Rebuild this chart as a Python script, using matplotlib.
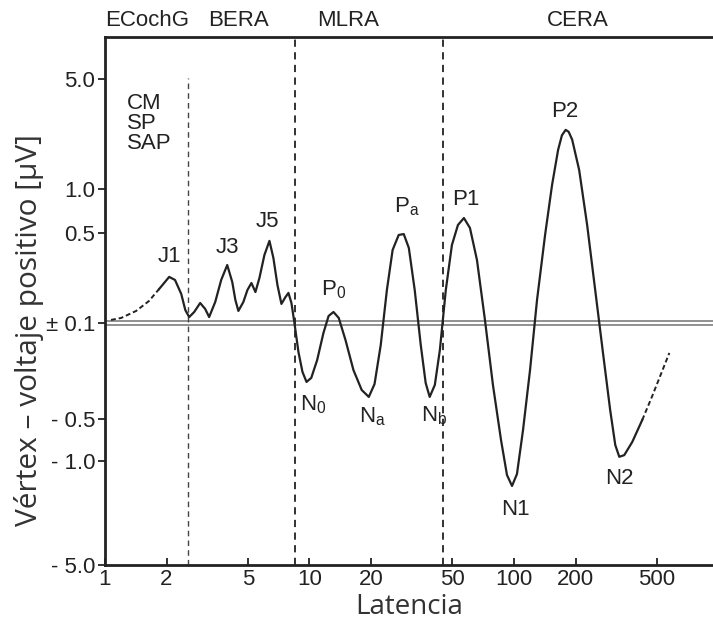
import numpy as np
import matplotlib
matplotlib.use('Agg')
from matplotlib import pyplot as plt

# latencia (ms) y voltaje (uV)
latency = [1.07, 1.20, 1.42, 1.64, 1.84, 2.06, 2.20, 2.36, 2.47, 2.58,
           2.73, 2.92, 3.09, 3.23, 3.46, 3.70, 3.96, 4.19, 4.34, 4.49,
           4.75, 4.97, 5.20, 5.44, 5.69, 6.02, 6.37, 6.66, 6.97, 7.29,
           7.63, 7.89, 8.16, 8.44, 8.83, 9.24, 9.67, 10.2, 10.9, 11.7,
           12.4, 13.1, 13.9, 15.0, 16.4, 18.0, 19.5, 20.8, 22.3, 23.9,
           25.5, 27.3, 28.9, 30.6, 32.7, 35.0, 37.0, 38.7, 41.0, 43.4,
           46.4, 49.7, 53.2, 56.9, 60.9, 65.9, 72.1, 78.9, 86.4, 92.4,
           97.8, 103.4, 110.7, 119.8, 129.6, 141.9, 153.5, 164.3, 171.5, 178.9,
           185.0, 192.4, 208.3, 227.9, 249.5, 273.2, 295.3, 312.8, 327.2, 346.1,
           378.6, 423.7, 474.4, 575.0]
voltage = [0.017, 0.028, 0.067, 0.122, 0.189, 0.256, 0.239, 0.161, 0.072, 0.033,
           0.061, 0.111, 0.078, 0.033, 0.117, 0.239, 0.322, 0.228, 0.128, 0.067,
           0.117, 0.183, 0.222, 0.172, 0.25, 0.378, 0.456, 0.361, 0.211, 0.106,
           0.144, 0.167, 0.111, 0.0, -0.151, -0.255, -0.307, -0.286, -0.193, -0.052,
           0.039, 0.061, 0.028, -0.089, -0.245, -0.349, -0.385, -0.318, -0.115, 0.183,
           0.406, 0.489, 0.494, 0.417, 0.183, -0.115, -0.313, -0.385, -0.323, -0.141,
           0.183, 0.433, 0.591, 0.67, 0.557, 0.35, 0.017, -0.323, -0.75, -1.54,
           -1.96, -1.5, -0.631, -0.245, 0.128, 0.489, 1.145, 2.42, 2.95, 3.15,
           3.08, 2.8, 1.69, 0.59, 0.183, -0.167, -0.453, -0.81, -0.95, -0.93,
           -0.774, -0.512, -0.38, -0.156]

# nombres de las ondas y donde van escritos
peak_names = ['J1', 'J3', 'J5', 'P$_\\mathrm{0}$', 'P$_\\mathrm{a}$', 'P1', 'P2',
              'N$_\\mathrm{0}$', 'N$_\\mathrm{a}$', 'N$_\\mathrm{b}$', 'N1', 'N2']
peak_lat = [2.06, 3.96, 6.22, 13.1, 29.9, 58.1, 177.8, 10.45, 20.4, 40.6, 101.9, 326]
peak_volt = [0.367, 0.422, 0.625, 0.183, 0.795, 0.875, 3.8, -0.427, -0.49, -0.484, -2.88, -1.69]

regions = ['ECochG', 'BERA', 'MLRA', 'CERA']
region_lat = [1.60, 4.52, 15.4, 205]
boundaries = [2.55, 8.45, 44.8]

xticks = [1, 2, 5, 10, 20, 50, 100, 200, 500]
yticks = [-5.0, -1.0, -0.5, 0.0, 0.5, 1.0, 5.0]
ytick_labels = ['- 5.0', '- 1.0', '- 0.5', '\u00b1 0.1', '0.5', '1.0', '5.0']

# eje vertical "casi logaritmico" del dibujo original
scale_vals = [-20, -5, -1, -0.5, 0, 0.5, 1, 5, 20]
scale_pos = [-350, -242, -138, -96, 0, 90, 134, 244, 350]


def fwd(v):
    return np.interp(v, scale_vals, scale_pos)


def inv(p):
    return np.interp(p, scale_pos, scale_vals)


ink = '#222222'
plt.rcParams['font.family'] = ['Liberation Sans', 'DejaVu Sans']
plt.rcParams['mathtext.fontset'] = 'custom'
plt.rcParams['mathtext.rm'] = 'Liberation Sans'

fig = plt.figure(figsize=(7.13, 6.28), dpi=100)
ax = fig.add_axes([105 / 713, 63 / 628, 1 - 105 / 713, 528 / 628])
ax.set_xscale('log')
ax.set_yscale('function', functions=(fwd, inv))
ax.set_xlim(1, 940)
ax.set_ylim(-5, 10.94)

# linea base doble
ax.axhline(0.011, color='#888888', lw=1.3)
ax.axhline(-0.011, color='#888888', lw=1.3)

# separaciones entre regiones
ax.vlines(boundaries[0], -5, 5.1, colors='#444444', lw=1.0, linestyles=(0, (4, 3)))
for b in boundaries[1:]:
    ax.axvline(b, color=ink, lw=1.3, linestyle=(0, (4, 3)))

lat = np.array(latency)
volt = np.array(voltage)
ax.plot(lat[:5], volt[:5], color=ink, lw=1.4, linestyle=(0, (2.5, 1.5)))
ax.plot(lat[4:92], volt[4:92], color=ink, lw=1.6)
ax.plot(lat[91:], volt[91:], color=ink, lw=1.4, linestyle=(0, (2.5, 1.5)))

for name, x, y in zip(peak_names, peak_lat, peak_volt):
    ax.text(x, y, name, ha='center', va='center', fontsize=16, color=ink)

ax.text(1.28, 4.5, 'CM\nSP\nSAP', ha='left', va='top', fontsize=16,
        color=ink, linespacing=0.95)

for name, x in zip(regions, region_lat):
    ax.text(x, 1.012, name, transform=ax.get_xaxis_transform(), ha='center',
            va='bottom', fontsize=16, color=ink)

ax.set_xticks(xticks)
ax.set_xticklabels([str(t) for t in xticks])
ax.xaxis.set_minor_locator(matplotlib.ticker.NullLocator())
ax.set_yticks(yticks)
ax.set_yticklabels(ytick_labels)
ax.yaxis.set_minor_locator(matplotlib.ticker.NullLocator())
ax.tick_params(axis='x', direction='in', length=5, width=1.3, labelsize=16,
               colors=ink, pad=3)
ax.tick_params(axis='y', direction='out', length=5, width=1.3, labelsize=16,
               colors=ink, pad=2)

for s in ['left', 'bottom', 'top']:
    ax.spines[s].set_linewidth(2)
    ax.spines[s].set_color(ink)
ax.spines['right'].set_visible(False)

ax.set_xlabel('Latencia', fontsize=20, family=['Open Sans', 'DejaVu Sans'],
              color='#333333', labelpad=2)
ax.set_ylabel('V\u00e9rtex \u2013 voltaje positivo [\u00b5V]', fontsize=21.5,
              family=['Open Sans', 'DejaVu Sans'], color='#333333')
ax.yaxis.set_label_coords(-0.1, 0.445)

fig.savefig('out.png', dpi=100)
